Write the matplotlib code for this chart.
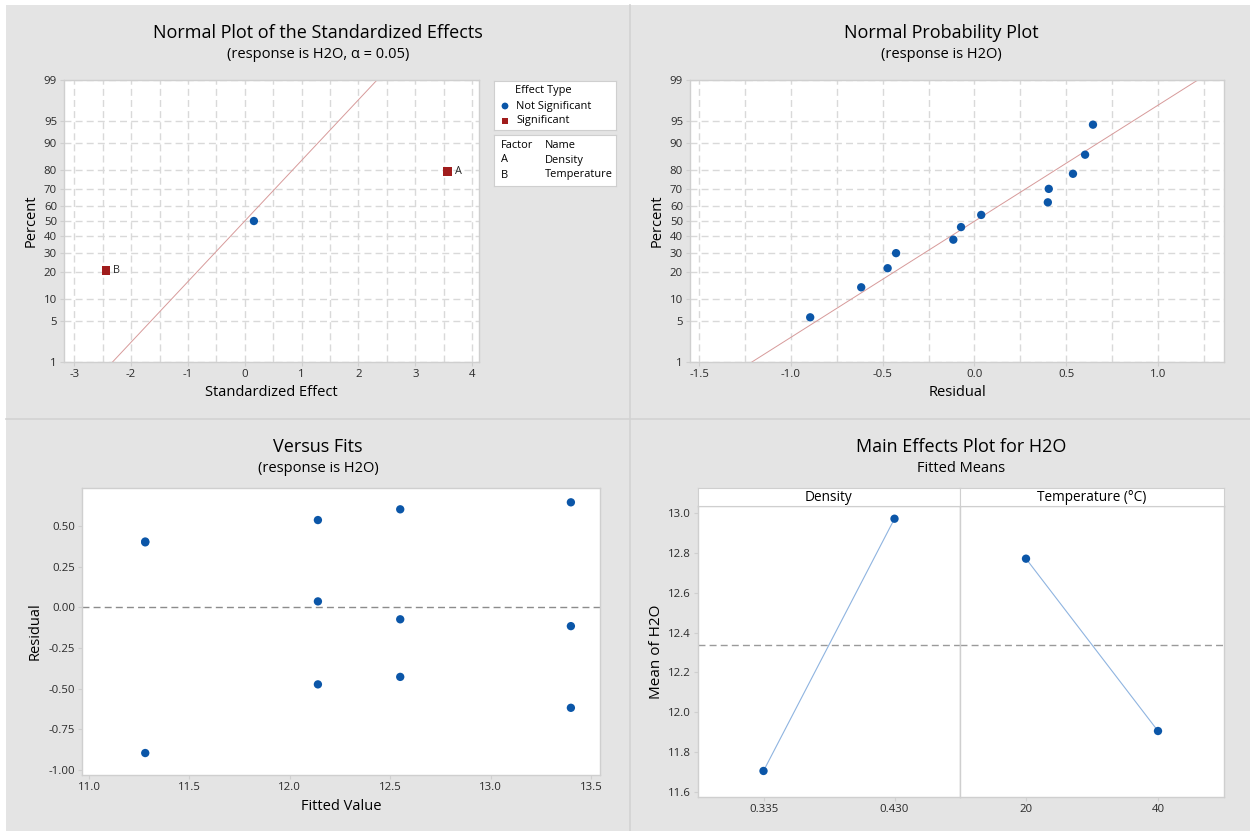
import matplotlib
matplotlib.use("Agg")
import matplotlib.pyplot as plt
from matplotlib.patches import Rectangle
from matplotlib.lines import Line2D
from statistics import NormalDist
import numpy as np

plt.rcParams['font.family'] = ['Open Sans', 'DejaVu Sans']

# ---------------- data ----------------
# Normal plot of standardized effects
effect_values = [0.16, 3.57, -2.44]
effect_percent = [50.0, 79.4, 20.6]
effect_labels = ["", "A", "B"]
effect_significant = [False, True, True]
factor_codes = ["A", "B"]
factor_names = ["Density", "Temperature"]

# Residuals vs fits
fitted_values = [11.28, 11.28, 11.28, 12.14, 12.14, 12.14,
                 12.55, 12.55, 12.55, 13.40, 13.40, 13.40]
residuals = [0.40, 0.405, -0.895, 0.537, 0.037, -0.473,
             0.603, -0.073, -0.427, 0.646, -0.115, -0.617]
# plotting positions (percent) for sorted residuals
resid_percent = [5.6, 13.7, 21.8, 29.8, 37.9, 46.0, 54.0, 62.1, 70.2, 78.2, 86.3, 94.4]

# Main effects
density_levels = ["0.335", "0.430"]
density_means = [11.704, 12.973]
temp_levels = ["20", "40"]
temp_means = [12.772, 11.905]

prob_ticks = [1, 5, 10, 20, 30, 40, 50, 60, 70, 80, 90, 95, 99]

# ---------------- style ----------------
W, H = 1250, 831
BG = "#e4e4e4"
SEP = "#d2d2d2"
FRAME = "#cfcfcf"
GRID = "#d9d9d9"
BLUE = "#0b56a8"
RED = "#a01c1c"
TXT = "#000000"
TICK = "#2a2a2a"
TFS = 13      # title
SFS = 10.5    # subtitle
LFS = 10.5    # axis label
KFS = 8.2     # tick labels

nd = NormalDist()
def z(p):
    return nd.inv_cdf(p / 100.0)

fig = plt.figure(figsize=(W / 100, H / 100), dpi=100)
fig.patch.set_facecolor("white")

def rect(l, t, r, b):
    return [l / W, 1 - b / H, (r - l) / W, (b - t) / H]

# panel background and separators
fig.patches.append(Rectangle((6 / W, 0), (W - 6) / W, (H - 5) / H,
                             transform=fig.transFigure, facecolor=BG, edgecolor="none", zorder=-10))
fig.lines.append(Line2D([630 / W, 630 / W], [0, 1 - 5 / H], transform=fig.transFigure,
                        color=SEP, linewidth=1.2, zorder=-9))
fig.lines.append(Line2D([6 / W, 1], [1 - 418.5 / H, 1 - 418.5 / H], transform=fig.transFigure,
                        color=SEP, linewidth=1.2, zorder=-9))

def ftext(x, y, s, **kw):
    fig.text(x / W, 1 - y / H, s, **kw)

def style_axes(ax):
    ax.set_facecolor("white")
    for sp in ax.spines.values():
        sp.set_color(FRAME)
        sp.set_linewidth(1.0)
    ax.tick_params(colors=FRAME, labelcolor=TICK, labelsize=KFS, length=3, width=0.8, pad=2)

def prob_axes(ax):
    ax.set_ylim(z(1), z(99))
    ax.set_yticks([z(p) for p in prob_ticks])
    ax.set_yticklabels([str(p) for p in prob_ticks])
    ax.grid(True, color=GRID, linestyle=(0, (5, 3)), linewidth=1.0)
    ax.set_axisbelow(True)

# ---------------- top-left: normal plot of standardized effects ----------------
ax1 = fig.add_axes(rect(64, 80, 479, 362))
style_axes(ax1)
prob_axes(ax1)
ax1.set_xlim(-3.18, 4.12)
ax1.set_xticks(np.arange(-3, 4.01, 1))
ax1.set_xticklabels(["-3", "-2", "-1", "0", "1", "2", "3", "4"])
ax1.set_xticks(np.arange(-3, 4.01, 0.5), minor=True)
ax1.tick_params(axis="x", which="minor", length=0)
ax1.grid(True, which="minor", axis="x", color=GRID, linestyle=(0, (5, 3)), linewidth=1.0)
zz = np.array([z(1), z(99)])
ax1.plot(zz, zz, color="#d79a9a", linewidth=0.7, zorder=2)
for v, p, lab, sig in zip(effect_values, effect_percent, effect_labels, effect_significant):
    if sig:
        ax1.scatter([v], [z(p)], marker="s", s=40, color=RED, zorder=3, edgecolors="none")
        ax1.annotate(lab, (v, z(p)), xytext=(5, 0), textcoords="offset points",
                     fontsize=7.8, color=TICK, va="center")
    else:
        ax1.scatter([v], [z(p)], marker="o", s=36, color=BLUE, zorder=3, edgecolors="none")
ax1.set_xlabel("Standardized Effect", fontsize=LFS, color=TXT, labelpad=4)
ax1.set_ylabel("Percent", fontsize=LFS, color=TXT, labelpad=4)
ftext(318, 33, "Normal Plot of the Standardized Effects", ha="center", va="center", fontsize=TFS, color=TXT)
ftext(318, 54, "(response is H2O, \u03b1 = 0.05)", ha="center", va="center", fontsize=SFS, color=TXT)

# legend boxes
lg1 = fig.add_axes(rect(494, 81, 616, 130))
lg2 = fig.add_axes(rect(494, 135, 616, 186))
LGF = 7.9
for lg, (t, b) in ((lg1, (81, 130)), (lg2, (135, 186))):
    lg.set_xlim(494, 616); lg.set_ylim(b, t)
    lg.set_xticks([]); lg.set_yticks([])
    lg.set_facecolor("white")
    for sp in lg.spines.values():
        sp.set_color(FRAME)
lg1.text(515, 91, "Effect Type", fontsize=LGF, color=TXT, va="center")
lg1.scatter([505], [106], marker="o", s=24, color=BLUE, edgecolors="none")
lg1.text(516, 106, "Not Significant", fontsize=LGF, color=TXT, va="center")
lg1.scatter([505], [121], marker="s", s=22, color=RED, edgecolors="none")
lg1.text(516, 121, "Significant", fontsize=LGF, color=TXT, va="center")
lg2.text(501, 145, "Factor", fontsize=LGF, color=TXT, va="center")
lg2.text(545, 145, "Name", fontsize=LGF, color=TXT, va="center")
for i, (c, n) in enumerate(zip(factor_codes, factor_names)):
    lg2.text(501, 160 + 15 * i, c, fontsize=LGF, color=TXT, va="center")
    lg2.text(545, 160 + 15 * i, n, fontsize=LGF, color=TXT, va="center")

# ---------------- top-right: normal probability plot ----------------
ax2 = fig.add_axes(rect(690, 80, 1224, 362))
style_axes(ax2)
prob_axes(ax2)
ax2.set_xlim(-1.55, 1.36)
ax2.set_xticks([-1.5, -1.0, -0.5, 0.0, 0.5, 1.0])
ax2.set_xticklabels(["-1.5", "-1.0", "-0.5", "0.0", "0.5", "1.0"])
ax2.set_xticks(np.arange(-1.5, 1.26, 0.25), minor=True)
ax2.tick_params(axis="x", which="minor", length=0)
ax2.grid(True, which="minor", axis="x", color=GRID, linestyle=(0, (5, 3)), linewidth=1.0)
res_sorted = np.sort(np.array(residuals))
mu = res_sorted.mean()
sd = res_sorted.std(ddof=1)
ax2.plot(mu + sd * zz, zz, color="#d79a9a", linewidth=0.7, zorder=2)
ax2.scatter(res_sorted, [z(p) for p in resid_percent], s=36, color=BLUE, zorder=3, edgecolors="none")
ax2.set_xlabel("Residual", fontsize=LFS, color=TXT, labelpad=4)
ax2.set_ylabel("Percent", fontsize=LFS, color=TXT, labelpad=4)
ftext(941, 33, "Normal Probability Plot", ha="center", va="center", fontsize=TFS, color=TXT)
ftext(941, 54, "(response is H2O)", ha="center", va="center", fontsize=SFS, color=TXT)

# ---------------- bottom-left: versus fits ----------------
ax3 = fig.add_axes(rect(82, 488, 600, 775))
style_axes(ax3)
ax3.set_xlim(10.965, 13.545)
ax3.set_ylim(-1.03, 0.734)
ax3.set_xticks([11.0, 11.5, 12.0, 12.5, 13.0, 13.5])
ax3.set_xticklabels(["11.0", "11.5", "12.0", "12.5", "13.0", "13.5"])
ax3.set_yticks([-1.0, -0.75, -0.5, -0.25, 0.0, 0.25, 0.5])
ax3.set_yticklabels(["-1.00", "-0.75", "-0.50", "-0.25", "0.00", "0.25", "0.50"])
ax3.axhline(0, color="#8c8c8c", linestyle=(0, (5, 3)), linewidth=1.0, zorder=1)
ax3.scatter(fitted_values, residuals, s=36, color=BLUE, zorder=3, edgecolors="none")
ax3.set_xlabel("Fitted Value", fontsize=LFS, color=TXT, labelpad=4)
ax3.set_ylabel("Residual", fontsize=LFS, color=TXT, labelpad=4)
ftext(318, 447, "Versus Fits", ha="center", va="center", fontsize=TFS, color=TXT)
ftext(318, 468, "(response is H2O)", ha="center", va="center", fontsize=SFS, color=TXT)

# ---------------- bottom-right: main effects ----------------
ymin, ymax = 11.573, 13.037
grand = (np.mean(density_means) + np.mean(temp_means)) / 2
axL = fig.add_axes(rect(698, 506, 960, 797))
axR = fig.add_axes(rect(960, 506, 1224, 797))
hL = fig.add_axes(rect(698, 488, 960, 506))
hR = fig.add_axes(rect(960, 488, 1224, 506))
for ax, levels, means in ((axL, density_levels, density_means), (axR, temp_levels, temp_means)):
    style_axes(ax)
    ax.set_xlim(-0.5, 1.5)
    ax.set_ylim(ymin, ymax)
    ax.set_xticks([0, 1])
    ax.set_xticklabels(levels)
    ax.axhline(grand, color="#9a9a9a", linestyle=(0, (5, 3)), linewidth=1.0, zorder=1)
    ax.plot([0, 1], means, color="#8fb4e0", linewidth=0.8, zorder=2)
    ax.scatter([0, 1], means, s=36, color=BLUE, zorder=3, edgecolors="none")
axL.set_yticks([11.6, 11.8, 12.0, 12.2, 12.4, 12.6, 12.8, 13.0])
axL.set_yticklabels(["11.6", "11.8", "12.0", "12.2", "12.4", "12.6", "12.8", "13.0"])
axR.set_yticks([])
axR.tick_params(axis="y", length=0)
axL.set_ylabel("Mean of H2O", fontsize=11, color=TXT, labelpad=3)
for h, name in ((hL, "Density"), (hR, "Temperature (\u00b0C)")):
    h.set_xticks([]); h.set_yticks([])
    h.set_facecolor("white")
    for sp in h.spines.values():
        sp.set_color(FRAME)
    h.text(0.5, 0.45, name, transform=h.transAxes, ha="center", va="center", fontsize=9.8, color=TXT)
ftext(961, 447, "Main Effects Plot for H2O", ha="center", va="center", fontsize=TFS, color=TXT)
ftext(961, 468, "Fitted Means", ha="center", va="center", fontsize=SFS, color=TXT)

fig.savefig("out.png", dpi=100, facecolor="white")
